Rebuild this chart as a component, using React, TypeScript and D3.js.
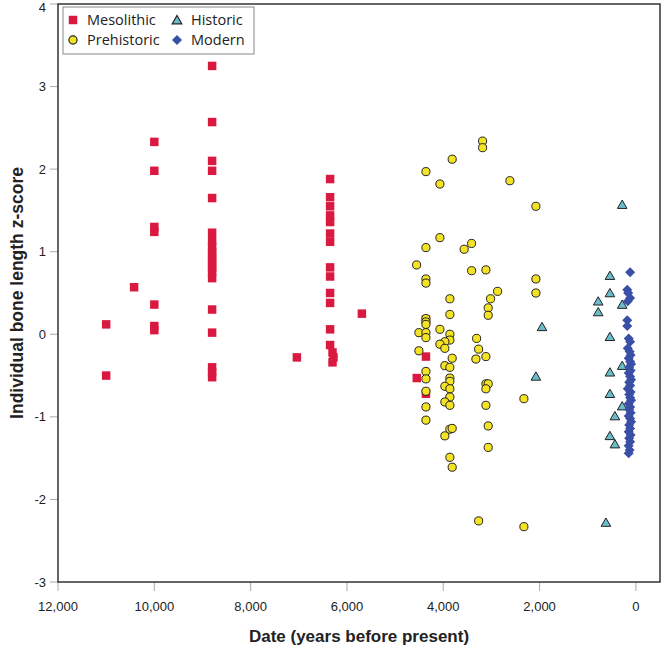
import React from 'react';
import * as d3 from 'd3';

// [date (years BP), z-score]
const mesolithic: [number, number][] = [
  [11000, 0.12], [11000, -0.5],
  [10420, 0.57],
  [10000, 2.33], [10000, 1.98], [10000, 1.3], [10000, 1.24], [10000, 0.36], [10000, 0.1], [10000, 0.05],
  [8800, 3.25], [8800, 2.57], [8800, 2.1], [8800, 1.98], [8800, 1.65], [8800, 1.23], [8800, 1.13],
  [8800, 1.06], [8800, 1.0], [8800, 0.95], [8800, 0.9], [8800, 0.85], [8800, 0.8], [8800, 0.75],
  [8800, 0.68], [8800, 0.3], [8800, 0.02], [8800, -0.4], [8800, -0.46], [8800, -0.52],
  [7040, -0.28],
  [6350, 1.88], [6350, 1.66], [6350, 1.55], [6350, 1.44], [6350, 1.36], [6350, 1.22], [6350, 1.12],
  [6350, 0.81], [6350, 0.7], [6350, 0.5], [6350, 0.38], [6350, 0.06], [6350, -0.13],
  [6300, -0.22], [6280, -0.28], [6300, -0.34],
  [5690, 0.25],
  [4360, 0.18], [4360, -0.27], [4360, -0.72], [4550, -0.53],
];

const prehistoric: [number, number][] = [
  [3184, 2.34], [3184, 2.26], [3815, 2.12], [4360, 1.97], [4070, 1.82], [2617, 1.86], [2077, 1.55],
  [4070, 1.17], [4360, 1.05], [3566, 1.03], [3412, 1.1], [4554, 0.84], [3412, 0.77], [3115, 0.78],
  [2077, 0.67], [2077, 0.5], [4360, 0.67], [4360, 0.62], [2872, 0.52], [3018, 0.43], [3863, 0.43],
  [3067, 0.32], [3067, 0.23], [3863, 0.24], [4360, 0.19], [4360, 0.15], [4360, 0.12],
  [4506, 0.02], [4360, 0.02], [4360, -0.04], [4070, 0.06], [3863, 0.0], [3863, -0.07],
  [3967, -0.09], [4070, -0.12], [3967, -0.17], [3308, -0.05], [3266, -0.18], [4506, -0.2],
  [3323, -0.3], [3115, -0.27], [3815, -0.29], [3967, -0.38], [3863, -0.4], [4360, -0.45],
  [4360, -0.54], [3863, -0.53], [3863, -0.57], [3967, -0.63], [3863, -0.66], [3115, -0.6],
  [3067, -0.6], [3115, -0.66], [4360, -0.69], [3863, -0.76], [3967, -0.82], [3863, -0.86],
  [3115, -0.86], [2326, -0.78], [4360, -0.88], [4360, -1.04], [3863, -1.15], [3815, -1.14],
  [3967, -1.23], [3067, -1.11], [3067, -1.37], [3863, -1.49], [3815, -1.61], [3266, -2.26],
  [2326, -2.33],
];

const historic: [number, number][] = [
  [285, 1.57], [540, 0.71], [540, 0.5], [783, 0.4], [783, 0.27], [285, 0.36], [540, -0.03],
  [285, -0.38], [540, -0.46], [540, -0.72], [285, -0.87], [436, -0.99], [540, -1.23],
  [436, -1.33], [623, -2.28], [1950, 0.09], [2077, -0.51],
];

const modern: [number, number][] = [
  [120, 0.75], [180, 0.54], [160, 0.5], [120, 0.44], [170, 0.4], [180, 0.17], [180, 0.1],
  [150, -0.05], [120, -0.09], [170, -0.17], [130, -0.21], [110, -0.25], [150, -0.29],
  [120, -0.33], [100, -0.36], [140, -0.4], [110, -0.44], [150, -0.47], [120, -0.51],
  [100, -0.55], [140, -0.58], [120, -0.62], [170, -0.66], [110, -0.7], [140, -0.73],
  [120, -0.77], [100, -0.8], [150, -0.84], [120, -0.88], [140, -0.91], [110, -0.95],
  [150, -0.99], [120, -1.02], [100, -1.06], [140, -1.1], [120, -1.14], [150, -1.18],
  [110, -1.22], [140, -1.26], [120, -1.3], [150, -1.35], [130, -1.4], [150, -1.44],
];

const xTicks = [12000, 10000, 8000, 6000, 4000, 2000, 0];
const yTicks = [-3, -2, -1, 0, 1, 2, 3, 4];

const RED = '#d9193f';
const YELLOW = '#f3e324';
const CYAN = '#6bbccb';
const BLUE = '#3a4fa6';

const left = 58, right = 660, top = 4, bottom = 582;

export default function App() {
  const x = d3.scaleLinear().domain([12000, -500]).range([left, right]);
  const y = d3.scaleLinear().domain([-3, 4]).range([bottom, top]);

  const square = d3.symbol(d3.symbolSquare, 72)()!;
  const circle = d3.symbol(d3.symbolCircle, 52)()!;
  const triangle = d3.symbol(d3.symbolTriangle, 40)()!;
  const diamond = d3.symbol(d3.symbolSquare, 50)()!;

  const fmt = d3.format(',');
  const tickFont = '"Liberation Sans", Arial, sans-serif';

  return (
    <svg width={663} height={650} style={{ position: 'absolute', left: 0, top: 0, background: '#fff' }}>
      {/* ticks */}
      {yTicks.map(t => (
        <g key={'y' + t}>
          <line x1={left - 8} x2={left} y1={y(t)} y2={y(t)} stroke="#aaa" />
          <text x={left - 12} y={Math.max(y(t), 7)} dy="0.35em" textAnchor="end" fontSize={13} fontFamily={tickFont} fill="#222">{t}</text>
        </g>
      ))}
      {xTicks.map(t => (
        <g key={'x' + t}>
          <line x1={x(t)} x2={x(t)} y1={bottom} y2={bottom + 9} stroke="#aaa" />
          <text x={x(t)} y={611} textAnchor="middle" fontSize={13} fontFamily={tickFont} fill="#222">{fmt(t)}</text>
        </g>
      ))}
      <rect x={left} y={top} width={right - left} height={bottom - top} fill="none" stroke="#333" strokeWidth={1.5} />

      {/* points */}
      {mesolithic.map((d, i) => (
        <path key={'m' + i} d={square} transform={`translate(${x(d[0])},${y(d[1])})`} fill={RED} />
      ))}
      {prehistoric.map((d, i) => (
        <path key={'p' + i} d={circle} transform={`translate(${x(d[0])},${y(d[1])})`} fill={YELLOW} stroke="#222" strokeWidth={1} />
      ))}
      {historic.map((d, i) => (
        <path key={'h' + i} d={triangle} transform={`translate(${x(d[0])},${y(d[1]) + 1})`} fill={CYAN} stroke="#222" strokeWidth={1} />
      ))}
      {modern.map((d, i) => (
        <path key={'d' + i} d={diamond} transform={`translate(${x(d[0])},${y(d[1])}) rotate(45)`} fill={BLUE} />
      ))}

      {/* legend */}
      <g fontFamily='"Open Sans", "Noto Sans", sans-serif' fontSize={14.5} fill="#222">
        <rect x={63} y={7} width={191} height={47} fill="#fff" stroke="#888" />
        <path d={square} transform="translate(73,20)" fill={RED} />
        <text x={87} y={20} dy="0.35em">Mesolithic</text>
        <path d={triangle} transform="translate(177,21)" fill={CYAN} stroke="#222" strokeWidth={1.2} />
        <text x={191} y={20} dy="0.35em">Historic</text>
        <path d={circle} transform="translate(73,40)" fill={YELLOW} stroke="#222" strokeWidth={1.2} />
        <text x={87} y={40} dy="0.35em">Prehistoric</text>
        <path d={diamond} transform="translate(177,40) rotate(45)" fill={BLUE} />
        <text x={191} y={40} dy="0.35em">Modern</text>
      </g>

      {/* axis titles */}
      <text x={(left + right) / 2} y={642} textAnchor="middle" fontSize={17} fontWeight="bold" fontFamily={tickFont} fill="#222">
        Date (years before present)
      </text>
      <text transform={`translate(23,${(top + bottom) / 2}) rotate(-90)`} textAnchor="middle" fontSize={17.5} fontWeight="bold" fontFamily={tickFont} fill="#222">
        Individual bone length z-score
      </text>
    </svg>
  );
}
